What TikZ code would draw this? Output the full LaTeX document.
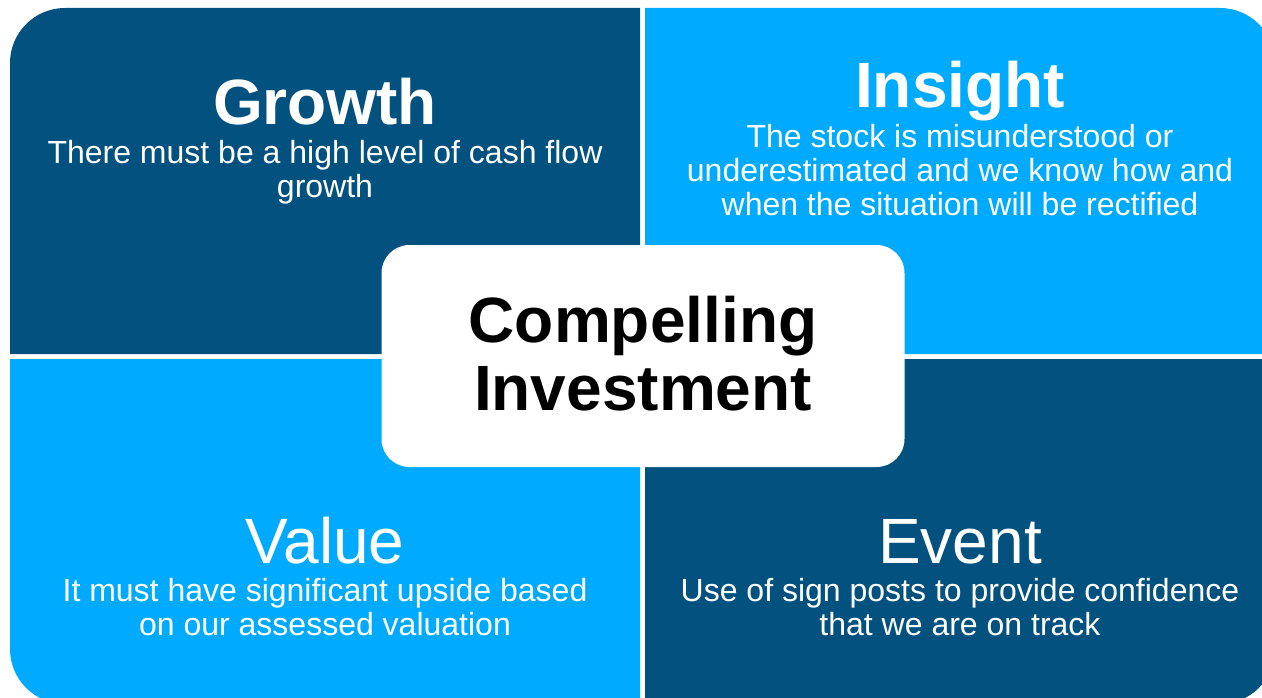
\documentclass[tikz,border=0pt]{standalone}
\usepackage{fontspec}
\setmainfont{Liberation Sans}
\definecolor{darkq}{RGB}{2,81,126}
\definecolor{lightq}{RGB}{0,170,255}
\tikzset{
  head/.style={text=white, font=\fontsize{64}{68}\selectfont, inner sep=0pt, anchor=base},
  body/.style={text=white, font=\fontsize{32}{34}\selectfont, align=center, inner sep=0pt, anchor=base},
}
\begin{document}
\begin{tikzpicture}[x=1pt,y=-1pt]
\useasboundingbox (0,0) rectangle (1262,698);
\fill[white] (0,0) rectangle (1262,698);
\begin{scope}
\clip (0,0) rectangle (1262,698);
% quadrants
\fill[darkq] (10,354) [rounded corners=55pt] -- (10,8) [sharp corners] -- (640,8) -- (640,354) -- cycle;
\fill[lightq] (645,8) [rounded corners=55pt] -- (1275,8) [sharp corners] -- (1275,354) -- (645,354) -- cycle;
\fill[lightq] (10,359) [rounded corners=55pt] -- (10,704) [sharp corners] -- (640,704) -- (640,359) -- cycle;
\fill[darkq] (1275,359) [rounded corners=55pt] -- (1275,704) [sharp corners] -- (645,704) -- (645,359) -- cycle;
\end{scope}
% centre box
\node[fill=white, rounded corners=28pt, minimum width=523pt, minimum height=222pt, inner sep=0pt] (centre) at (643,356) {};
\node[head, text=black, font=\fontsize{64}{68}\selectfont\bfseries, align=center] (centretext) at (643,410) {Compelling\\Investment};
% headings
\node[head, font=\fontsize{64}{68}\selectfont\bfseries] (growth) at (325,125) {Growth};
\node[head, font=\fontsize{64}{68}\selectfont\bfseries] (insight) at (960,108) {Insight};
\node[head] (value) at (325,563) {Value};
\node[head] (event) at (960,563) {Event};
% body texts (anchor = baseline of last line)
\node[body] (growthtext) at (325,197) {There must be a high level of cash flow\\growth};
\node[body] (insighttext) at (960,215) {The stock is misunderstood or\\underestimated and we know how and\\when the situation will be rectified};
\node[body] (valuetext) at (325,635) {It must have significant upside based\\on our assessed valuation};
\node[body] (eventtext) at (960,635) {Use of sign posts to provide confidence\\that we are on track};
\end{tikzpicture}
\end{document}
